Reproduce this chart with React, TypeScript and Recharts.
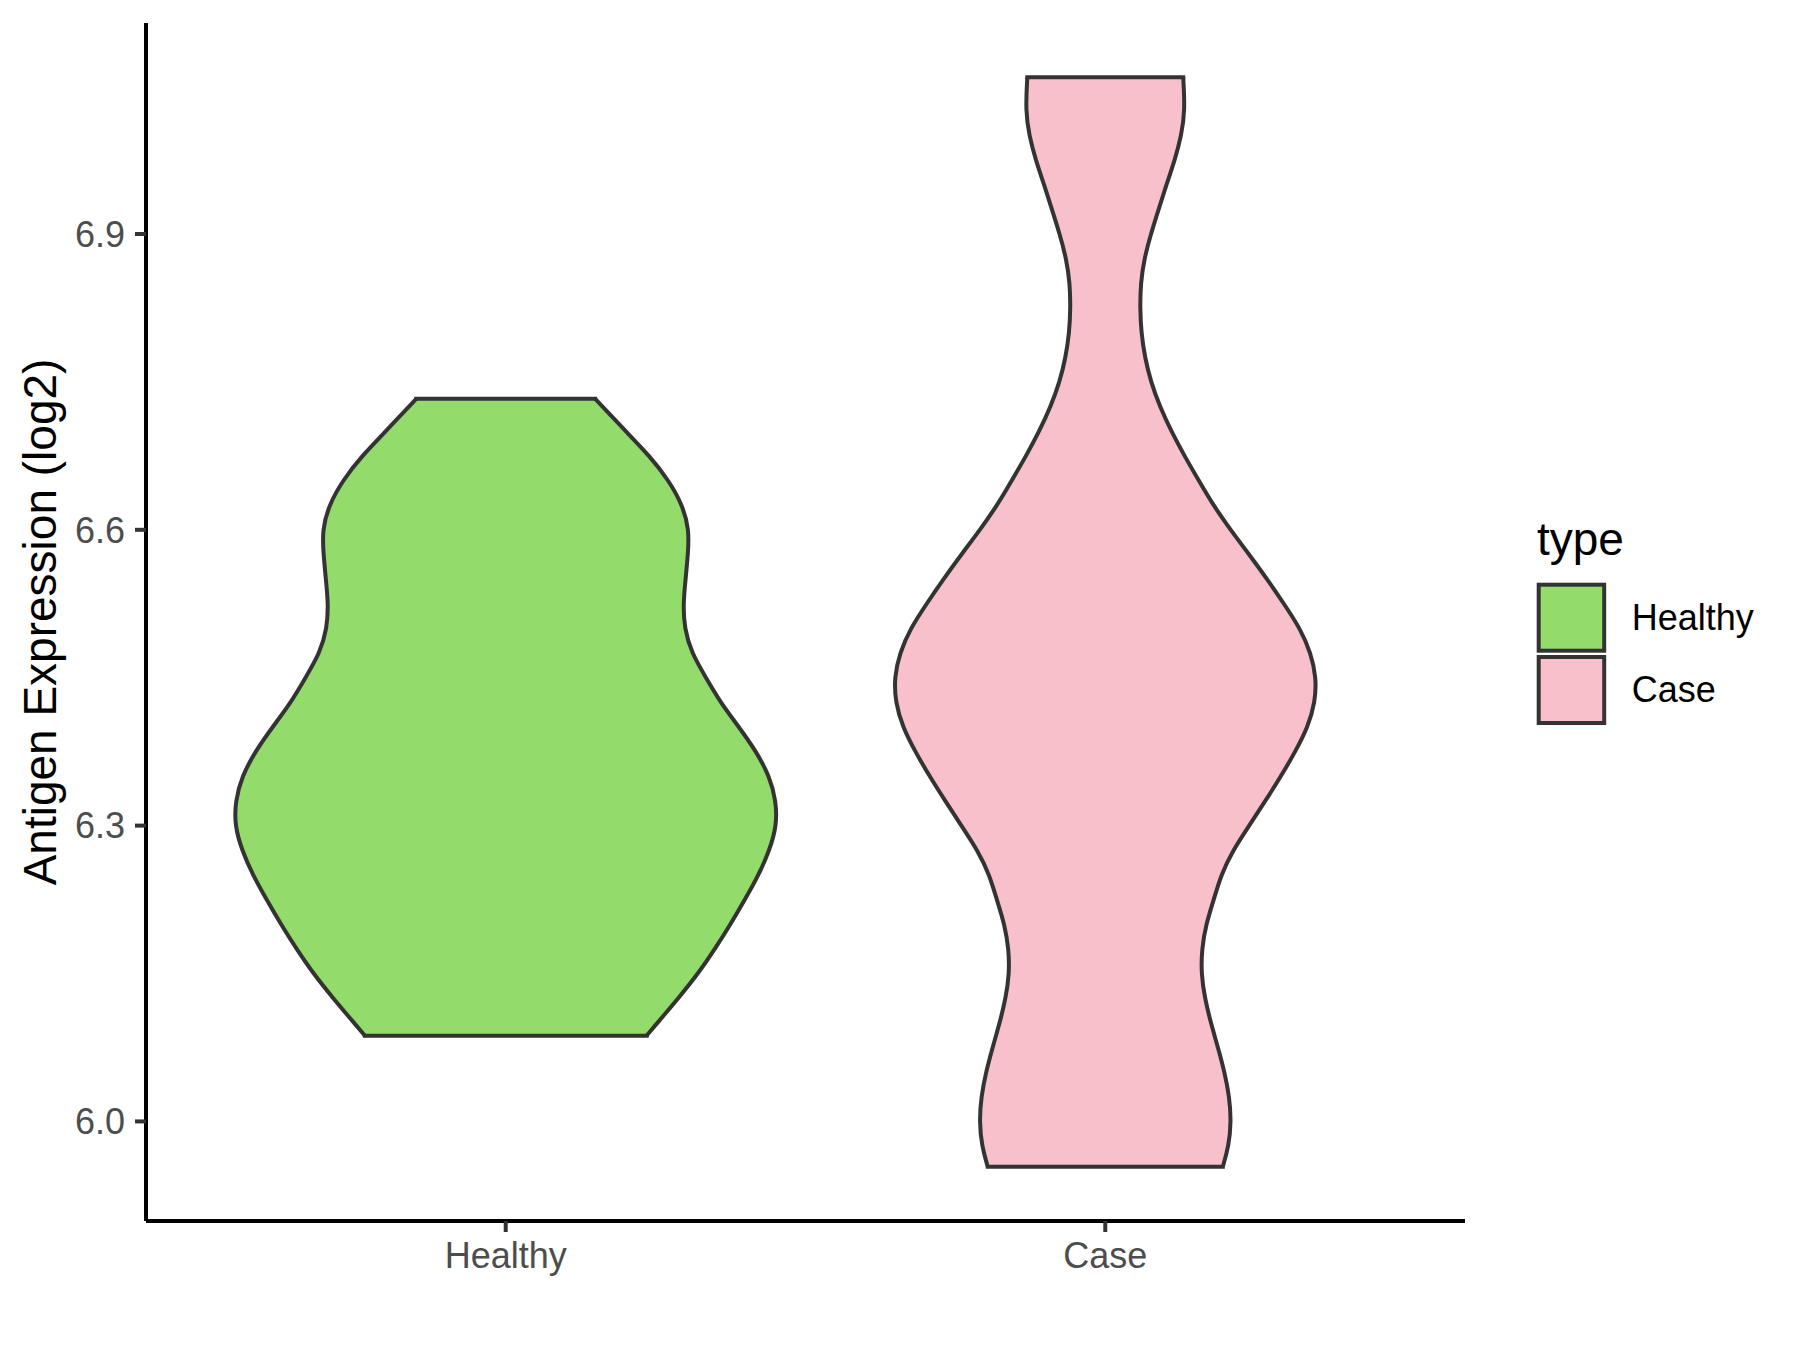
import { Area, ComposedChart, Legend, ReferenceLine, XAxis, YAxis } from "recharts";

const CATEGORIES = ["Healthy", "Case"];
const FILLS: Record<string, string> = { Healthy: "#93DB6B", Case: "#F8C0CB" };
const OUTLINE = "#333333";
const TICK = "#4D4D4D";
const FONT = '"Liberation Sans", Arial, Helvetica, sans-serif';

// violin outlines: expression level and half-width (in category units)
const HEALTHY_Y = [
  6.087, 6.1, 6.125, 6.15, 6.175, 6.2, 6.225, 6.25, 6.275, 6.3, 6.325, 6.35, 6.375, 6.4,
  6.425, 6.45, 6.475, 6.5, 6.525, 6.55, 6.575, 6.6, 6.625, 6.65, 6.675, 6.7, 6.733,
];
const HEALTHY_HALF = [
  0.235, 0.253, 0.288, 0.321, 0.349, 0.375, 0.399, 0.422, 0.44, 0.452, 0.451, 0.44, 0.418,
  0.389, 0.358, 0.334, 0.31, 0.298, 0.296, 0.3, 0.304, 0.306, 0.295, 0.272, 0.24, 0.2, 0.149,
];

const CASE_Y = [
  5.954, 5.975, 6.0, 6.025, 6.05, 6.075, 6.1, 6.125, 6.15, 6.175, 6.2, 6.225, 6.25, 6.275,
  6.3, 6.325, 6.35, 6.375, 6.4, 6.425, 6.45, 6.475, 6.5, 6.525, 6.55, 6.575, 6.6, 6.625,
  6.65, 6.675, 6.7, 6.725, 6.75, 6.775, 6.8, 6.825, 6.85, 6.875, 6.9, 6.925, 6.95, 6.975,
  7.0, 7.025, 7.059,
];
const CASE_HALF = [
  0.196, 0.206, 0.21, 0.207, 0.199, 0.188, 0.176, 0.166, 0.16, 0.161, 0.168, 0.181, 0.193,
  0.213, 0.24, 0.267, 0.293, 0.317, 0.338, 0.35, 0.352, 0.343, 0.325, 0.298, 0.27, 0.24,
  0.209, 0.18, 0.156, 0.132, 0.11, 0.091, 0.076, 0.066, 0.06, 0.058, 0.059, 0.065, 0.076,
  0.089, 0.102, 0.116, 0.127, 0.133, 0.13,
];

const Y_TICKS = [6.0, 6.3, 6.6, 6.9];
const Y_DOMAIN: [number, number] = [5.899, 7.114];
const X_DOMAIN: [number, number] = [0.4, 2.6];

// one row per outline point, each violin on its own (identical) y axis
const rows = Array.from({ length: Math.max(HEALTHY_Y.length, CASE_Y.length) }, (_, i) => ({
  hy: HEALTHY_Y[i],
  healthy: i < HEALTHY_Y.length ? [1 - HEALTHY_HALF[i], 1 + HEALTHY_HALF[i]] : undefined,
  cy: CASE_Y[i],
  case: i < CASE_Y.length ? [2 - CASE_HALF[i], 2 + CASE_HALF[i]] : undefined,
}));

// flat ends of a trimmed violin
function cap(center: number, ys: number[], half: number[], i: number) {
  return [
    { x: center - half[i], y: ys[i] },
    { x: center + half[i], y: ys[i] },
  ];
}

function TypeLegend({ payload }: { payload?: { value?: string }[] }) {
  const items = [...(payload ?? [])].sort(
    (a, b) => CATEGORIES.indexOf(String(a.value)) - CATEGORIES.indexOf(String(b.value))
  );
  return (
    <svg width={260} height={240} style={{ display: "block", fontFamily: FONT }}>
      <text x={1} y={55} fontSize={46} fill="#000">
        type
      </text>
      {items.map((item, i) => (
        <g key={String(item.value)}>
          <rect
            x={2.7}
            y={84.7 + i * 72.3}
            width={65.5}
            height={66}
            fill={FILLS[String(item.value)]}
            stroke={OUTLINE}
            strokeWidth={4}
          />
          <text x={95.7} y={130 + i * 72.3} fontSize={36} fill="#000">
            {item.value}
          </text>
        </g>
      ))}
    </svg>
  );
}

const tickText = { fill: TICK, fontSize: 36, fontFamily: FONT };
const tickLine = { stroke: OUTLINE, strokeWidth: 4 };
const axisLine = { stroke: "#000", strokeWidth: 4 };

export default function App() {
  const hLast = HEALTHY_Y.length - 1;
  const cLast = CASE_Y.length - 1;
  return (
    <div style={{ position: "absolute", left: 0, top: 0, background: "#fff", fontFamily: FONT }}>
      <ComposedChart
        width={1800}
        height={1350}
        data={rows}
        layout="vertical"
        margin={{ top: 23, right: 335, bottom: 69, left: 0 }}
      >
        <XAxis
          type="number"
          domain={X_DOMAIN}
          ticks={[1, 2]}
          allowDataOverflow
          tickFormatter={(v: number) => CATEGORIES[v - 1] ?? ""}
          height={60}
          tickSize={11}
          tickMargin={10}
          tick={tickText}
          tickLine={tickLine}
          axisLine={axisLine}
        />
        <YAxis
          yAxisId="healthy"
          type="number"
          dataKey="hy"
          domain={Y_DOMAIN}
          ticks={Y_TICKS}
          reversed
          allowDataOverflow
          tickFormatter={(v: number) => v.toFixed(1)}
          width={146}
          tickSize={11}
          tickMargin={10}
          tick={tickText}
          tickLine={tickLine}
          axisLine={axisLine}
          label={{
            value: "Antigen Expression (log2)",
            angle: -90,
            position: "insideLeft",
            offset: 40,
            style: { textAnchor: "middle", fontSize: 46, fill: "#000", fontFamily: FONT },
          }}
        />
        <YAxis
          yAxisId="case"
          type="number"
          dataKey="cy"
          domain={Y_DOMAIN}
          reversed
          allowDataOverflow
          orientation="right"
          width={0}
          hide
        />
        <Legend
          layout="horizontal"
          align="center"
          verticalAlign="middle"
          width={260}
          height={240}
          wrapperStyle={{ left: 1536, top: 500, width: 260, height: 240 }}
          content={(props) => <TypeLegend payload={props.payload as { value?: string }[]} />}
        />
        <Area
          yAxisId="healthy"
          dataKey="healthy"
          name="Healthy"
          type="basis"
          fill={FILLS.Healthy}
          fillOpacity={1}
          stroke={OUTLINE}
          strokeWidth={4}
          isAnimationActive={false}
        />
        <Area
          yAxisId="case"
          dataKey="case"
          name="Case"
          type="basis"
          fill={FILLS.Case}
          fillOpacity={1}
          stroke={OUTLINE}
          strokeWidth={4}
          isAnimationActive={false}
        />
        <ReferenceLine yAxisId="healthy" segment={cap(1, HEALTHY_Y, HEALTHY_HALF, 0)} stroke={OUTLINE} strokeWidth={4} strokeLinecap="square" />
        <ReferenceLine yAxisId="healthy" segment={cap(1, HEALTHY_Y, HEALTHY_HALF, hLast)} stroke={OUTLINE} strokeWidth={4} strokeLinecap="square" />
        <ReferenceLine yAxisId="case" segment={cap(2, CASE_Y, CASE_HALF, 0)} stroke={OUTLINE} strokeWidth={4} strokeLinecap="square" />
        <ReferenceLine yAxisId="case" segment={cap(2, CASE_Y, CASE_HALF, cLast)} stroke={OUTLINE} strokeWidth={4} strokeLinecap="square" />
      </ComposedChart>
    </div>
  );
}
